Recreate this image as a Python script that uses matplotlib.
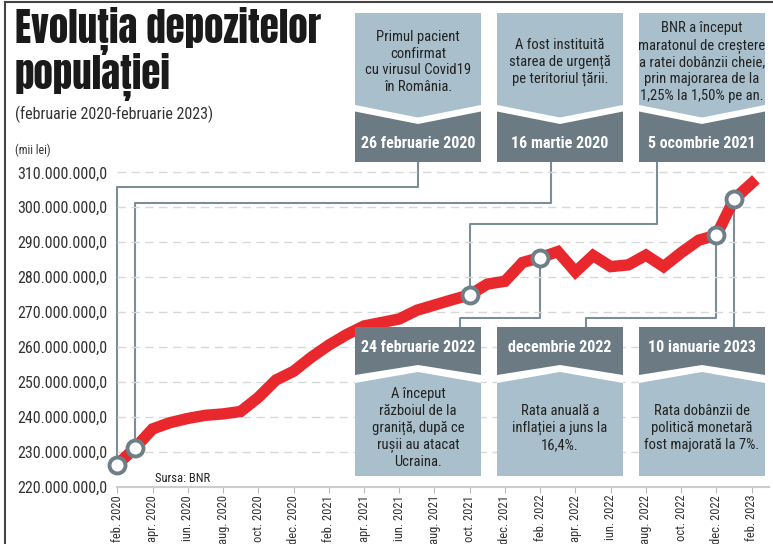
import matplotlib.pyplot as plt
from matplotlib import font_manager
from matplotlib.patches import Polygon, Rectangle
from matplotlib.ticker import FuncFormatter

W, H = 773, 544

installed = {f.name for f in font_manager.fontManager.ttflist}


def pick(cands):
    for c in cands:
        if c in installed:
            return c
    return 'DejaVu Sans'


BODY = pick(['Roboto Condensed', 'PT Sans Narrow', 'Archivo Narrow',
             'Barlow Semi Condensed', 'Liberation Sans Narrow', 'Roboto'])
HEAD = pick(['Anton', 'Oswald', 'Fjalla One', 'Roboto Condensed', 'Roboto'])
plt.rcParams['font.family'] = [BODY, 'DejaVu Sans']

# depozite, milioane (mii lei), lunar feb. 2020 - feb. 2023
deposits = [226.3, 231.0, 236.5, 238.3, 239.5, 240.4, 240.8, 241.5, 245.5, 250.5,
            253.0, 257.0, 260.5, 263.5, 266.0, 267.0, 268.0, 270.5, 272.0, 273.5,
            274.9, 278.0, 278.8, 284.2, 285.6, 287.3, 281.5, 286.2, 283.0, 283.5,
            286.3, 283.0, 287.0, 290.6, 292.0, 302.3, 306.9]
tick_labels = ["feb. 2020", "apr. 2020", "iun. 2020", "aug. 2020", "oct. 2020",
               "dec. 2020", "feb. 2021", "apr. 2021", "iun. 2021", "aug. 2021",
               "oct. 2021", "dec. 2021", "feb. 2022", "apr. 2022", "iun. 2022",
               "aug. 2022", "oct. 2022", "dec. 2022", "feb. 2023"]

# evenimente: index luna, data, text
top_idx = [0, 1, 20]
top_dates = ["26 februarie 2020", "16 martie 2020", "5 ocombrie 2021"]
top_texts = ["Primul pacient\nconfirmat\ncu virusul Covid19\nîn România.",
             "A fost instituită\nstarea de urgență\npe teritoriul țării.",
             "BNR a început\nmaratonul de creștere\na ratei dobânzii cheie,\n"
             "prin majorarea de la\n1,25% la 1,50% pe an."]
bot_idx = [24, 34, 35]
bot_dates = ["24 februarie 2022", "decembrie 2022", "10 ianuarie 2023"]
bot_texts = ["A început\nrăzboiul de la\ngraniță, după ce\nrușii au atacat\nUcraina.",
             "Rata anuală a\ninflației a juns la\n16,4%.",
             "Rata dobânzii de\npolitică monetară\nfost majorată la 7%."]

LIGHT = '#a9bfcb'
DARK = '#6b7a83'
CONN = '#7d8d96'
RED = '#e8282d'

fig = plt.figure(figsize=(W / 100, H / 100), dpi=100)
fig.patch.set_facecolor('white')

# fundal: conectori
back = fig.add_axes([0, 0, 1, 1], zorder=1)
back.set_xlim(0, W)
back.set_ylim(H, 0)
back.axis('off')

ax = fig.add_axes([117.3 / W, (H - 486.5) / H, 652 / W, 91 * 3.49 / H], zorder=2)
ax.patch.set_visible(False)
x = list(range(len(deposits)))
ax.plot(x, deposits, color=RED, lw=8.2, solid_capstyle='projecting',
        solid_joinstyle='miter', clip_on=False, zorder=3)
mk = top_idx + bot_idx
ax.plot(mk, [deposits[i] for i in mk], 'o', ms=11.5, mfc='white', mec='#6e7f88',
        mew=2.8, clip_on=False, zorder=4)
ax.set_xlim(0, 37)
ax.set_ylim(220, 311)
ax.set_yticks(range(220, 311, 10))
ax.yaxis.set_major_formatter(FuncFormatter(lambda v, p: f"{int(v)}.000.000,0"))
ax.set_xticks(range(0, 37, 2))
ax.set_xticklabels(tick_labels, rotation=90, fontsize=9, color='#333333')
ax.tick_params(axis='y', length=0, pad=7, labelsize=11.5, labelcolor='#333333')
ax.tick_params(axis='x', length=4, color='#bbbbbb', pad=2)
ax.yaxis.grid(True, linestyle=(0, (6, 4)), color='#d8d8d8', lw=1)
ax.set_axisbelow(True)
for s in ['top', 'right', 'left']:
    ax.spines[s].set_visible(False)
ax.spines['bottom'].set_color('#cccccc')
ax.spines['bottom'].set_linewidth(1.5)


def px(i):
    xd, yd = ax.transData.transform((i, deposits[i]))
    return xd, H - yd


# conectori
top_h = [187, 203, 224]
top_anchor = [418, 551, 657]
for k, i in enumerate(top_idx):
    mx, my = px(i)
    back.plot([mx, mx, top_anchor[k], top_anchor[k]], [my, top_h[k], top_h[k], 161],
              color=CONN, lw=1.5)
bot_anchor = [460, 586, None]
for k, i in enumerate(bot_idx):
    mx, my = px(i)
    a = bot_anchor[k] if bot_anchor[k] is not None else mx
    back.plot([mx, mx, a, a], [my, 318, 318, 327], color=CONN, lw=1.5)

# casete
front = fig.add_axes([0, 0, 1, 1], zorder=5)
front.set_xlim(0, W)
front.set_ylim(H, 0)
front.axis('off')
front.patch.set_visible(False)
cols = [355, 497, 639]
bw = 126
for k, x0 in enumerate(cols):
    x1, xc = x0 + bw, x0 + bw / 2
    # sus
    front.add_patch(Rectangle((x0, 13), bw, 149, color=DARK, lw=0))
    front.add_patch(Polygon([(x0, 13), (x1, 13), (x1, 111.5), (xc, 124), (x0, 111.5)],
                            color='white', lw=0))
    front.add_patch(Polygon([(x0, 13), (x1, 13), (x1, 105), (xc, 117.5), (x0, 105)],
                            color=LIGHT, lw=0))
    front.text(xc, 62, top_texts[k], ha='center', va='center', fontsize=10.5,
               linespacing=1.25, color='#222222')
    front.text(xc, 143, top_dates[k], ha='center', va='center', fontsize=11.5,
               fontweight='bold', color='white')
    # jos
    front.add_patch(Rectangle((x0, 327), bw, 149, color=DARK, lw=0))
    front.add_patch(Polygon([(x0, 375), (xc, 365), (x1, 375), (x1, 476), (x0, 476)],
                            color='white', lw=0))
    front.add_patch(Polygon([(x0, 383), (xc, 372), (x1, 383), (x1, 476), (x0, 476)],
                            color=LIGHT, lw=0))
    front.text(xc, 428, bot_texts[k], ha='center', va='center', fontsize=10.5,
               linespacing=1.25, color='#222222')
    front.text(xc, 348, bot_dates[k], ha='center', va='center', fontsize=11.5,
               fontweight='bold', color='white')

# titluri
front.text(15, 43, "Evoluția depozitelor", fontsize=28, family=[HEAD, 'DejaVu Sans'],
           color='#1a1a1a', va='baseline')
front.text(15, 89, "populației", fontsize=28, family=[HEAD, 'DejaVu Sans'],
           color='#1a1a1a', va='baseline')
front.text(15, 114, "(februarie 2020-februarie 2023)", fontsize=11.5,
           color='#333333', va='center')
front.text(15, 150, "(mii lei)", fontsize=8.5, color='#333333', va='center')
front.text(155, 478, "Sursa: BNR", fontsize=9, color='#222222', va='center')

# chenar
front.plot([5, 5], [2, H], color='#444444', lw=1.5)
front.plot([5, W], [2, 2], color='#444444', lw=1.5)

fig.savefig('out.png', dpi=100)
